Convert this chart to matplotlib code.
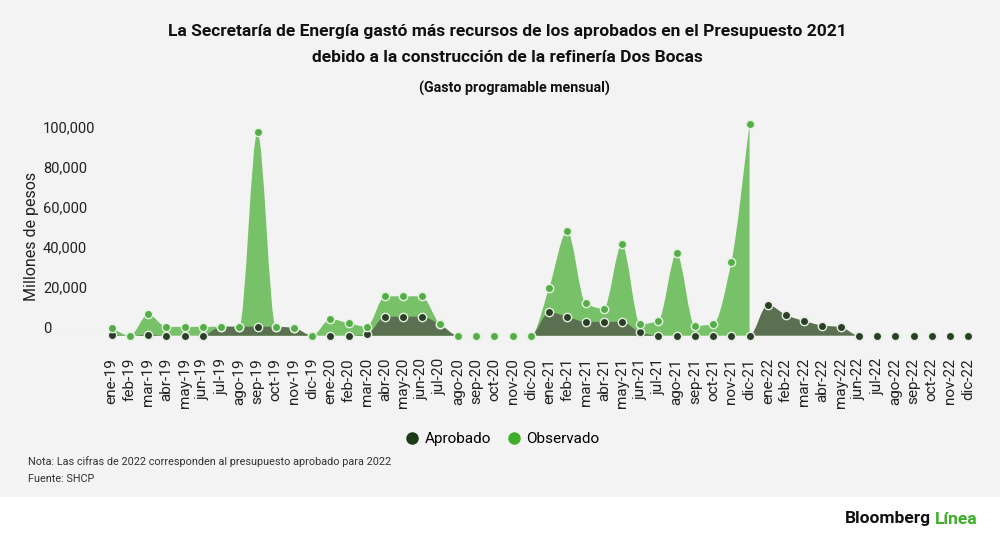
import numpy as np
import matplotlib
matplotlib.use('Agg')
import matplotlib.pyplot as plt
from matplotlib.path import Path
from matplotlib.patches import PathPatch, Rectangle
from matplotlib.lines import Line2D

plt.rcParams['font.family'] = ['Roboto', 'DejaVu Sans']

# Datos (millones de pesos)
meses = ['ene', 'feb', 'mar', 'abr', 'may', 'jun', 'jul', 'ago', 'sep', 'oct', 'nov', 'dic']
anios = ['19', '20', '21', '22']
etiquetas = [m + '-' + a for a in anios for m in meses]

aprobado = [500, 0, 500, 0, 0, 0, 4500, 4500, 4500, 4500, 3800, 0,
            0, 0, 700, 9500, 9500, 9500, 5800, 0, 0, 0, 0, 0,
            11700, 9500, 6900, 6900, 6900, 1700, 0, 0, 0, 0, 0, 0,
            15500, 10300, 7300, 5100, 4300, 0, 0, 0, 0, 0, 0, 0]

observado = [3700, 0, 10700, 4400, 4400, 4400, 4500, 4500, 101700, 4500, 3800, 0,
             8300, 6200, 4500, 19700, 19700, 19700, 5800, 0, 0, 0, 0, 0,
             23800, 52200, 16200, 13500, 45700, 5700, 7500, 41200, 4900, 5700, 36800, 105700]

col_fondo = '#f3f3f3'
col_obs = '#77c168'
col_apr = '#5a7050'
col_obs_pt = '#55ad48'
col_apr_pt = '#2b3f28'


def curva_monotona(x, y):
    # trayectoria tipo "monotoneX": segmentos Bezier que pasan por los puntos
    x = np.asarray(x, float)
    y = np.asarray(y, float)
    h = np.diff(x)
    d = np.diff(y) / h
    m = np.zeros_like(y)
    m[0], m[-1] = d[0], d[-1]
    for i in range(1, len(y) - 1):
        if d[i - 1] * d[i] <= 0:
            m[i] = 0
        else:
            m[i] = 2 / (1 / d[i - 1] + 1 / d[i])
    verts = [(x[0], 0), (x[0], y[0])]
    codes = [Path.MOVETO, Path.LINETO]
    for i in range(len(x) - 1):
        verts += [(x[i] + h[i] / 3, y[i] + m[i] * h[i] / 3),
                  (x[i + 1] - h[i] / 3, y[i + 1] - m[i + 1] * h[i] / 3),
                  (x[i + 1], y[i + 1])]
        codes += [Path.CURVE4] * 3
    verts += [(x[-1], 0), (x[0], 0)]
    codes += [Path.LINETO, Path.CLOSEPOLY]
    return Path(verts, codes)


fig = plt.figure(figsize=(10, 5.4), dpi=100)
fig.patch.set_facecolor('white')
fig.patches.append(Rectangle((0, 43 / 540), 1, 497 / 540, transform=fig.transFigure,
                             facecolor=col_fondo, edgecolor='none', zorder=-10))

ax = fig.add_axes([43 / 1000, (540 - 335.7) / 540, 934 / 1000, 220 / 540])
ax.set_facecolor('none')

x_obs = np.arange(len(observado))
x_apr = np.arange(len(aprobado))

ax.add_patch(PathPatch(curva_monotona(x_obs, observado), facecolor=col_obs,
                       edgecolor='none', zorder=2))
ax.add_patch(PathPatch(curva_monotona(x_apr, aprobado), facecolor=col_apr,
                       edgecolor='none', zorder=3))

ax.axhline(0, color='#d4d4d4', linewidth=0.8, zorder=1)

ax.plot(x_apr, aprobado, linestyle='none', marker='o', markersize=6,
        markerfacecolor=col_apr_pt, markeredgecolor='#e4eee0', markeredgewidth=1.0,
        zorder=5, clip_on=False)
ax.plot(x_obs, observado, linestyle='none', marker='o', markersize=6,
        markerfacecolor=col_obs_pt, markeredgecolor='#e4f2e0', markeredgewidth=1.0,
        zorder=6, clip_on=False)

ax.set_xlim(-3.77, 47.48)
ax.set_ylim(0, 110000)

for s in ax.spines.values():
    s.set_visible(False)

ax.set_xticks(np.arange(len(etiquetas)))
ax.set_xticklabels(etiquetas, rotation=90, fontsize=11, color='#222222')
ax.tick_params(axis='x', length=0, pad=16)

ax.set_yticks(np.arange(0, 100001, 20000))
ax.set_yticklabels(['{:,}'.format(v) for v in range(0, 100001, 20000)],
                   fontsize=10.5, color='#222222')
ax.tick_params(axis='y', length=0, pad=0)
for lbl in ax.get_yticklabels():
    lbl.set_horizontalalignment('left')
    lbl.set_verticalalignment('bottom')

ax.set_ylabel('Millones de pesos', fontsize=11.5, color='#222222', labelpad=0)
ax.yaxis.set_label_coords(-0.0045, 0.45)

fig.text(507 / 1000, (540 - 31) / 540,
         'La Secretaría de Energía gastó más recursos de los aprobados en el Presupuesto 2021',
         ha='center', va='center', fontsize=12.5, fontweight='bold', color='#111111')
fig.text(507 / 1000, (540 - 57) / 540, 'debido a la construcción de la refinería Dos Bocas',
         ha='center', va='center', fontsize=12.5, fontweight='bold', color='#111111')
fig.text(514 / 1000, (540 - 88) / 540, '(Gasto programable mensual)',
         ha='center', va='center', fontsize=10.3, fontweight='bold', color='#111111')

handles = [Line2D([], [], linestyle='none', marker='o', markersize=9,
                  markerfacecolor='#1c3a17', markeredgecolor='none', label='Aprobado'),
           Line2D([], [], linestyle='none', marker='o', markersize=9,
                  markerfacecolor='#3fae2a', markeredgecolor='none', label='Observado')]
fig.legend(handles=handles, loc='center', bbox_to_anchor=(0.502, (540 - 439) / 540),
           ncol=2, frameon=False, fontsize=11, handletextpad=0.3, columnspacing=1.0,
           handlelength=1.0)

fig.text(28 / 1000, (540 - 462) / 540,
         'Nota: Las cifras de 2022 corresponden al presupuesto aprobado para 2022',
         ha='left', va='center', fontsize=7.8, color='#333333')
fig.text(28 / 1000, (540 - 479) / 540, 'Fuente: SHCP',
         ha='left', va='center', fontsize=7.8, color='#333333')

t1 = fig.text(845 / 1000, (540 - 519) / 540, 'Bloomberg', ha='left', va='center',
              fontsize=12.5, fontweight='bold', color='#111111')
fig.canvas.draw()
bb = t1.get_window_extent()
fig.text((bb.x1 + 4) / 1000, (540 - 519) / 540, 'Línea', ha='left', va='center',
         fontsize=12.5, fontweight='bold', color='#3fae2a')

fig.savefig('out.png', dpi=100, facecolor=fig.get_facecolor())
